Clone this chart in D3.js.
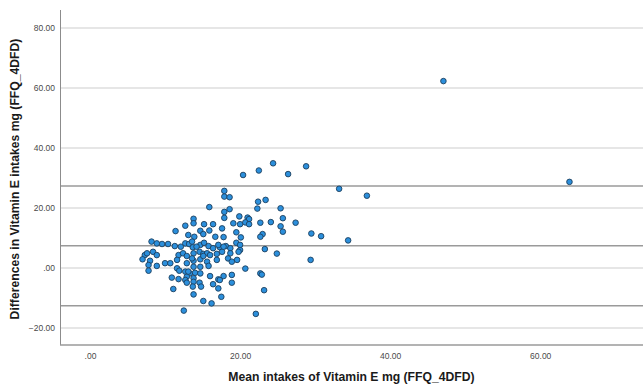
<!DOCTYPE html>
<html>
<head>
<meta charset="utf-8">
<script src="https://cdn.jsdelivr.net/npm/d3@7"></script>
<style>
  body { margin: 0; background: #fff; }
  text { font-family: "Liberation Sans", Arial, sans-serif; }
</style>
</head>
<body>
<svg id="chart" width="643" height="387"></svg>
<script>
// mean of the two methods (x) and their difference (y)
var meanIntake = [
  20.4, 22.5, 24.4, 26.4, 28.8, 33.2, 36.9, 17.9, 17.9, 18.6, 15.9, 22.4, 23.4, 22.3, 25.4, 17.9, 18.6,
  17.9, 13.8, 13.8, 19.9, 21.0, 21.2, 12.7, 15.2, 16.4, 19.1, 20.0, 20.7, 21.2, 22.7, 24.1, 25.7, 27.4,
  25.4, 25.7, 17.6, 23.0, 22.7, 29.5, 30.8, 34.4, 11.4, 14.7, 15.9, 19.5, 13.1, 13.9, 15.1, 16.7, 17.8,
  20.1, 23.3, 24.9, 29.4, 20.7, 22.7, 22.9, 23.2, 22.1, 12.5,
  9.6, 10.4, 11.3, 12.1, 12.7, 13.2, 13.7, 14.7, 15.2, 15.8, 16.4, 17.3, 18.1, 18.7, 19.5, 20.0,
  11.8, 12.4, 12.9, 13.8, 14.6, 15.1, 15.6, 16.0, 17.6, 18.7, 19.8,
  10.0, 10.7, 11.6, 12.9, 13.8, 14.7, 15.6, 16.9, 18.4, 18.9, 19.6,
  13.8, 14.7, 15.8, 12.7, 13.3, 14.0, 14.7, 12.9,
  10.9, 11.8, 12.7, 13.8, 16.0, 17.1, 17.8, 18.9, 12.9, 13.8, 14.6, 18.9, 16.4, 17.3,
  11.1, 13.7, 14.8, 17.1, 13.8, 15.1, 16.2, 17.5,
  8.2, 8.9, 7.3, 7.6, 8.4, 8.9, 7.0, 8.0, 7.8, 8.9, 7.8,
  11.6, 11.9, 13.6, 14.2, 17.1, 16.9, 13.6, 13.1, 17.8, 15.1, 20.0,
  47.1, 63.9
];
var difference = [
  31.0, 32.5, 34.9, 31.3, 33.9, 26.4, 24.1, 25.7, 23.8, 23.6, 20.3, 22.1, 22.7, 19.8, 19.9, 18.7, 19.6,
  16.7, 16.4, 14.9, 17.2, 16.8, 16.3, 14.1, 14.6, 14.6, 14.9, 14.6, 15.2, 14.6, 15.1, 15.3, 16.6, 15.1,
  13.9, 12.1, 13.2, 11.3, 10.4, 11.5, 10.6, 9.2, 12.3, 12.4, 12.5, 11.9, 11.0, 10.4, 11.3, 10.4, 10.3,
  10.2, 6.3, 4.8, 2.7, -0.2, -1.8, -2.2, -7.4, -15.3, -14.2,
  8.0, 8.0, 7.3, 7.1, 8.2, 8.0, 6.9, 7.7, 8.4, 7.3, 6.6, 6.9, 7.3, 6.6, 8.4, 6.0,
  4.3, 4.9, 4.0, 4.9, 5.4, 4.7, 4.9, 4.3, 5.4, 4.9, 5.4,
  1.6, 1.6, 2.7, 1.6, 2.4, 2.9, 2.1, 2.7, 3.2, 2.1, 2.7,
  0.4, 0.4, 0.7, -1.2, -1.8, -1.6, -1.8, -2.9,
  -3.2, -3.7, -4.0, -3.4, -2.7, -3.8, -2.7, -2.3, -4.9, -4.6, -4.9, -4.9, -5.4, -4.0,
  -7.0, -6.2, -6.2, -6.8, -8.8, -11.0, -11.8, -9.6,
  8.8, 8.2, 4.3, 4.9, 5.4, 4.3, 2.9, 2.4, 1.0, 0.7, -0.9,
  -0.1, -0.9, 8.8, 7.1, 7.7, 4.7, 3.2, -1.2, 7.1, 4.0, 7.7,
  62.3, 28.7
];
// mean difference and limits of agreement
var refLines = [27.35, 7.4, -12.6];
var xTicks = [0, 20, 40, 60];
var yTicks = [-20, 0, 20, 40, 60, 80];
var xTitle = "Mean intakes of Vitamin E mg (FFQ_4DFD)";
var yTitle = "Differences in Vitamin E intakes mg (FFQ_4DFD)";

(function () {
  var plotL = 60, plotR = 643, plotT = 10, plotB = 345;

  var svg = d3.select("#chart");

  var x = d3.scaleLinear().domain([-4, 73.7]).range([plotL, plotR]);
  var y = d3.scaleLinear().domain([-25.67, 86]).range([plotB, plotT]);

  // SPSS style labels: 0 -> ".00", 20 -> "20.00"
  var fmt = function (d) { return d3.format(".2f")(d).replace(/^(-?)0\./, "$1."); };

  // horizontal grid
  svg.append("g").selectAll("line")
    .data(yTicks)
    .enter().append("line")
    .attr("x1", plotL).attr("x2", plotR)
    .attr("y1", function (d) { return y(d); })
    .attr("y2", function (d) { return y(d); })
    .attr("stroke", "#dedede")
    .attr("stroke-width", 1.5);

  // reference lines
  svg.append("g").selectAll("line")
    .data(refLines)
    .enter().append("line")
    .attr("x1", plotL).attr("x2", plotR)
    .attr("y1", function (d) { return y(d); })
    .attr("y2", function (d) { return y(d); })
    .attr("stroke", "#9a9a9a")
    .attr("stroke-width", 1.6);

  // axes (labels only, lines drawn separately)
  var yAxis = svg.append("g")
    .attr("transform", "translate(" + plotL + ",0)")
    .call(d3.axisLeft(y).tickValues(yTicks).tickSize(0).tickPadding(5).tickFormat(fmt));
  var xAxis = svg.append("g")
    .attr("transform", "translate(0," + plotB + ")")
    .call(d3.axisBottom(x).tickValues(xTicks).tickSize(0).tickPadding(8).tickFormat(fmt));
  [yAxis, xAxis].forEach(function (g) {
    g.select(".domain").remove();
    g.selectAll("text")
      .attr("font-size", 8.5)
      .attr("font-family", "Liberation Sans, Arial, sans-serif")
      .attr("fill", "#4a4a4a");
  });

  svg.append("line")
    .attr("x1", plotL + 0.5).attr("x2", plotL + 0.5)
    .attr("y1", plotT).attr("y2", plotB)
    .attr("stroke", "#8c8c8c").attr("stroke-width", 1);
  svg.append("line")
    .attr("x1", plotL).attr("x2", plotR)
    .attr("y1", plotB).attr("y2", plotB)
    .attr("stroke", "#9a9a9a").attr("stroke-width", 1.6);

  // points
  var pts = meanIntake.map(function (m, i) { return [m, difference[i]]; });
  svg.append("g").selectAll("circle")
    .data(pts)
    .enter().append("circle")
    .attr("cx", function (d) { return x(d[0]); })
    .attr("cy", function (d) { return y(d[1]); })
    .attr("r", 2.8)
    .attr("fill", "#2b8fdc")
    .attr("stroke", "#1d3f5e")
    .attr("stroke-width", 0.9);

  // titles
  svg.append("text")
    .attr("x", (plotL + plotR) / 2).attr("y", 381)
    .attr("text-anchor", "middle")
    .attr("font-size", 12.2)
    .attr("font-weight", "bold")
    .attr("fill", "#1a1a1a")
    .text(xTitle);
  svg.append("text")
    .attr("transform", "translate(19,179) rotate(-90)")
    .attr("text-anchor", "middle")
    .attr("font-size", 12.2)
    .attr("font-weight", "bold")
    .attr("fill", "#1a1a1a")
    .text(yTitle);
})();
</script>
</body>
</html>
